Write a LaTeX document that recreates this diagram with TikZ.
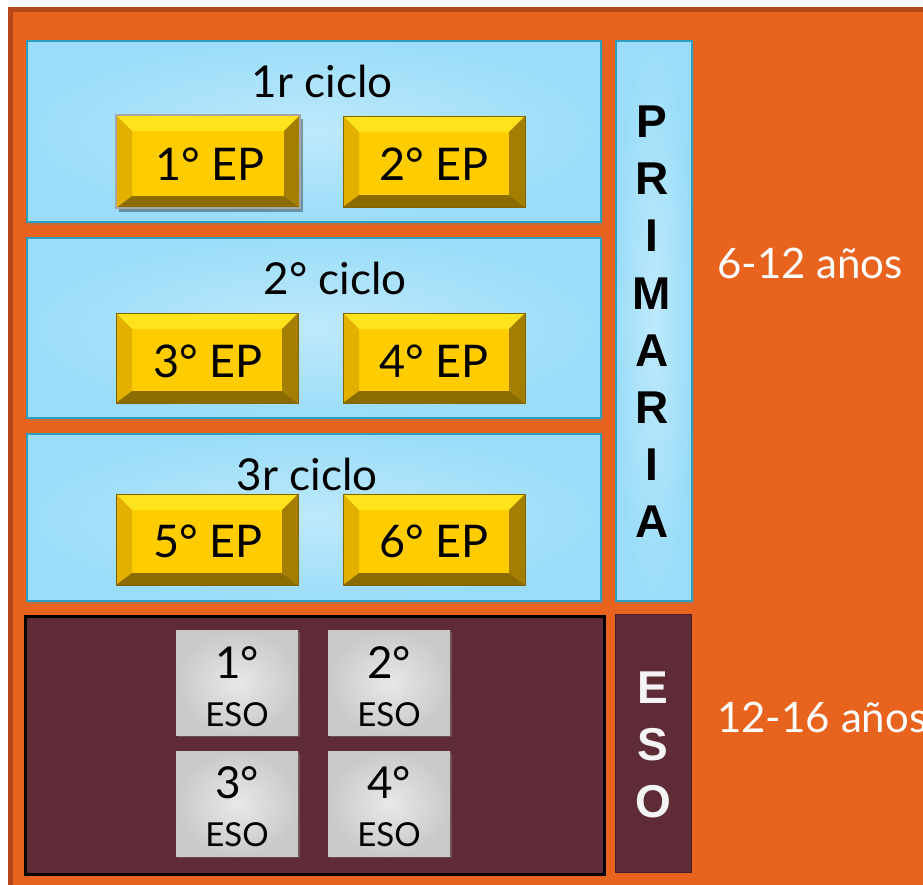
\documentclass[tikz,border=0pt]{standalone}
\usepackage{fontspec}
\setmainfont{Lato}
\newfontfamily\capfont{Liberation Sans}
\usetikzlibrary{shadows}
\definecolor{orangeBG}{HTML}{E8631E}
\definecolor{orangeDK}{HTML}{B5481A}
\definecolor{blueL}{HTML}{BEE9FB}
\definecolor{blueD}{HTML}{9BDDF9}
\definecolor{blueBd}{HTML}{2E9DBE}
\definecolor{maroon}{HTML}{5E2B37}
\definecolor{maroonBd}{HTML}{45202A}
\definecolor{yFace}{HTML}{FFCC00}
\definecolor{yTop}{HTML}{FFE31C}
\definecolor{yLeft}{HTML}{E3B000}
\definecolor{yRight}{HTML}{A37E00}
\definecolor{yBot}{HTML}{8A6C00}
\definecolor{txtW}{HTML}{F4F4F4}
\tikzset{
  bluebox/.style={draw=blueBd, line width=1.6pt, shading=radial, inner color=blueL, outer color=blueD,
     inner sep=0pt, anchor=north west, drop shadow={shadow xshift=2pt, shadow yshift=-3pt, opacity=0.35}},
  graybox/.style={shading=radial, inner color=gray!18, outer color=gray!42, inner sep=0pt, anchor=north west,
     minimum width=122pt, minimum height=105pt,
     drop shadow={shadow xshift=1.5pt, shadow yshift=-2pt, opacity=0.4}},
  lbl/.style={font=\fontsize{44}{50}\selectfont, text=black, anchor=base, inner sep=0pt},
  eplbl/.style={font=\fontsize{45}{50}\selectfont, text=black, anchor=base, inner sep=0pt},
  esonum/.style={font=\fontsize{44}{50}\selectfont, text=black, anchor=base, inner sep=0pt},
  esotxt/.style={font=\fontsize{33}{40}\selectfont, text=black, anchor=base, inner sep=0pt},
  agelbl/.style={font=\fontsize{42}{50}\selectfont, text=white, anchor=base west, inner sep=0pt},
  vlet/.style={font=\capfont\bfseries\fontsize{46}{50}\selectfont, anchor=base, inner sep=0pt},
}
\newcommand{\bevbtn}[4]{%
  \fill[yFace] (#1,#2) rectangle (#3,#4);
  \fill[yTop] (#1,#2) -- (#3,#2) -- (#3-16,#2+16) -- (#1+16,#2+16) -- cycle;
  \fill[yLeft] (#1,#2) -- (#1+16,#2+16) -- (#1+16,#4-12) -- (#1,#4) -- cycle;
  \fill[yRight] (#3,#2) -- (#3-16,#2+16) -- (#3-16,#4-12) -- (#3,#4) -- cycle;
  \fill[yBot] (#1,#4) -- (#1+16,#4-12) -- (#3-16,#4-12) -- (#3,#4) -- cycle;
  \draw[yRight!80!black, line width=0.6pt] (#1,#2) rectangle (#3,#4);
}
\begin{document}
\begin{tikzpicture}[x=1pt,y=-1pt]
\useasboundingbox (0,0) rectangle (923,884);
\fill[white] (0,0) rectangle (923,884);
\begin{scope}
\clip (0,0) rectangle (923,884);
\draw[orangeDK, line width=5pt, fill=orangeBG] (10.5,9.5) rectangle (960,920);

% Primaria cycles
\node[bluebox, minimum width=574pt, minimum height=181pt] (c1) at (26,40) {};
\node[bluebox, minimum width=574pt, minimum height=180pt] (c2) at (26,237) {};
\node[bluebox, minimum width=574pt, minimum height=167pt] (c3) at (26,433) {};
\node[bluebox, minimum width=76pt, minimum height=560pt] (prim) at (615,40) {};

\node[lbl] (t1) at (322,97) {1r ciclo};
\node[lbl] (t2) at (335,294) {2° ciclo};
\node[lbl] (t3) at (307,490) {3r ciclo};

% buttons
\fill[black, opacity=0.35] (119,119) rectangle (303,212);
\bevbtn{116}{115}{300}{208}
\draw[gray!70, line width=1.2pt] (116,115) rectangle (300,208);
\node[eplbl] (ep1) at (210,180) {1° EP};
\bevbtn{343}{116}{525}{207}
\node[eplbl] (ep2) at (434,180) {2° EP};
\bevbtn{116}{313}{298}{403}
\node[eplbl] (ep3) at (208,377) {3° EP};
\bevbtn{343}{313}{525}{403}
\node[eplbl] (ep4) at (434,377) {4° EP};
\bevbtn{116}{494}{298}{585}
\node[eplbl] (ep5) at (208,557) {5° EP};
\bevbtn{343}{494}{525}{585}
\node[eplbl] (ep6) at (434,557) {6° EP};

% PRIMARIA letters
\node[vlet] (p1) at (652,137) {P};
\node[vlet] (p2) at (652,194) {R};
\node[vlet] (p3) at (652,251) {I};
\node[vlet] (p4) at (652,309) {M};
\node[vlet] (p5) at (652,366) {A};
\node[vlet] (p6) at (652,423) {R};
\node[vlet] (p7) at (652,480) {I};
\node[vlet] (p8) at (652,537) {A};

% ESO
\node[draw=black, line width=3pt, fill=maroon, inner sep=0pt, anchor=north west,
      minimum width=579pt, minimum height=258pt] (esobox) at (23.5,614.5) {};
\node[draw=maroonBd, line width=1pt, fill=maroon, inner sep=0pt, anchor=north west,
      minimum width=76pt, minimum height=258pt] (esobar) at (615,614) {};

\node[graybox] (g1) at (176,630) {};
\node[graybox] (g2) at (328,630) {};
\node[graybox] (g3) at (176,751) {};
\node[graybox] (g4) at (328,751) {};
\node[esonum] (n1) at (237,678) {1°};
\node[esotxt] (e1) at (237,726) {ESO};
\node[esonum] (n2) at (389,678) {2°};
\node[esotxt] (e2) at (389,726) {ESO};
\node[esonum] (n3) at (237,798) {3°};
\node[esotxt] (e3) at (237,846) {ESO};
\node[esonum] (n4) at (389,798) {4°};
\node[esotxt] (e4) at (389,846) {ESO};

\node[vlet, text=txtW] (s1) at (653,703) {E};
\node[vlet, text=txtW] (s2) at (653,760) {S};
\node[vlet, text=txtW] (s3) at (653,817) {O};

% ages
\node[agelbl] (a1) at (717,278) {6-12 años};
\node[agelbl] (a2) at (717,732) {12-16 años};
\end{scope}
\end{tikzpicture}
\end{document}
